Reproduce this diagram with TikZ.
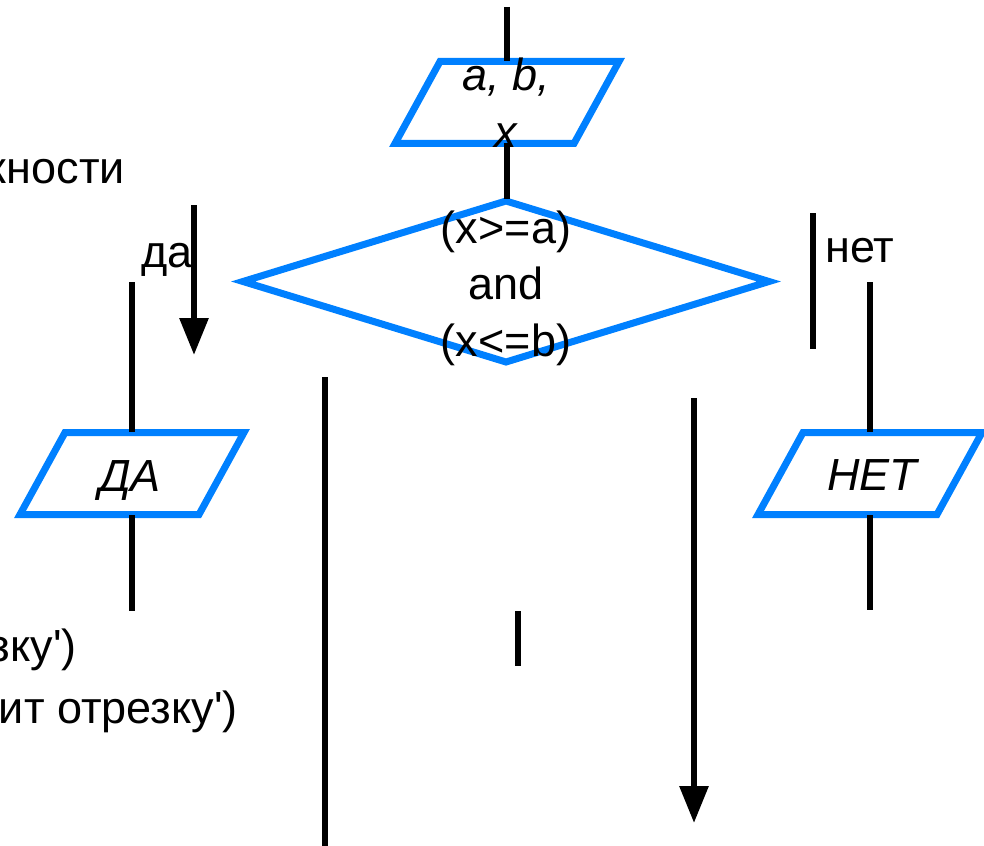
\documentclass[tikz,border=0pt]{standalone}
\usepackage{fontspec}
\setmainfont{Liberation Sans}[Ligatures=TeXOff]
\usetikzlibrary{arrows.meta}
\definecolor{flowblue}{RGB}{0,128,255}
\begin{document}
\begin{tikzpicture}[x=1pt,y=-1pt,
  conn/.style={line width=6pt, black},
  arr/.style={conn, -{Triangle[length=37pt,width=28pt]}},
  blockline/.style={draw=flowblue, line width=7pt, line join=miter},
  txt/.style={inner sep=0pt, font=\fontsize{45}{56}\selectfont},
  itxt/.style={inner sep=0pt, font=\fontsize{45}{56}\selectfont\itshape}]
\useasboundingbox (0,0) rectangle (984,845);
\clip (0,0) rectangle (984,845);

% blocks
\draw[blockline] (440,61.5) -- (619,61.5) -- (574,143.5) -- (395,143.5) -- cycle;
\draw[blockline] (506,201) -- (769,281.5) -- (506,362) -- (243,281.5) -- cycle;
\draw[blockline] (65,432.5) -- (244,432.5) -- (199,514.5) -- (20,514.5) -- cycle;
\draw[blockline] (803,432.5) -- (982,432.5) -- (937,514.5) -- (758,514.5) -- cycle;

% connector end points
\coordinate (s0) at (507,7);
\coordinate (inTop) at (507,61.5);
\coordinate (inBot) at (507,143.5);
\coordinate (dTop) at (507,199);
\coordinate (daA) at (194,205);
\coordinate (daB) at (194,355);
\coordinate (yA) at (132,282);
\coordinate (yTop) at (132,432);
\coordinate (yBot) at (132,515);
\coordinate (yEnd) at (132,611);
\coordinate (nA) at (813,213);
\coordinate (nB) at (813,349);
\coordinate (noA) at (870,282);
\coordinate (noTop) at (870,432);
\coordinate (noBot) at (870,515);
\coordinate (noEnd) at (870,610);
\coordinate (lA) at (325,377);
\coordinate (lB) at (325,850);
\coordinate (rA) at (694,398);
\coordinate (rB) at (694,823);
\coordinate (mA) at (518,611);
\coordinate (mB) at (518,666);

% connectors
\draw[conn] (s0) -- (inTop);
\draw[conn] (inBot) -- (dTop);
\draw[arr] (daA) -- (daB);
\draw[conn] (yA) -- (yTop);
\draw[conn] (yBot) -- (yEnd);
\draw[conn] (nA) -- (nB);
\draw[conn] (noA) -- (noTop);
\draw[conn] (noBot) -- (noEnd);
\draw[conn] (lA) -- (lB);
\draw[arr] (rA) -- (rB);
\draw[conn] (mA) -- (mB);

% texts
\node[itxt, anchor=base] (in1) at (506,91) {a, b,};
\node[itxt, anchor=base] (in2) at (506,148) {x};
\node[txt, anchor=base] (c1) at (506,243) {(x>=a)};
\node[txt, anchor=base] (c2) at (506,299) {and};
\node[txt, anchor=base] (c3) at (506,356) {(x<=b)};
\node[itxt, anchor=base] (yes) at (130,491) {ДА};
\node[itxt, anchor=base] (no) at (872,490) {НЕТ};
\node[txt, anchor=base east] (lyes) at (193,267) {да};
\node[txt, anchor=base west] (lno) at (825,262) {нет};
\node[txt, anchor=base east] (t1) at (125,183) {принадлежности};
\node[txt, anchor=base east] (t2) at (77,661) {отрезку')};
\node[txt, anchor=base east] (t3) at (238,723) {не принадлежит отрезку')};
\end{tikzpicture}
\end{document}
